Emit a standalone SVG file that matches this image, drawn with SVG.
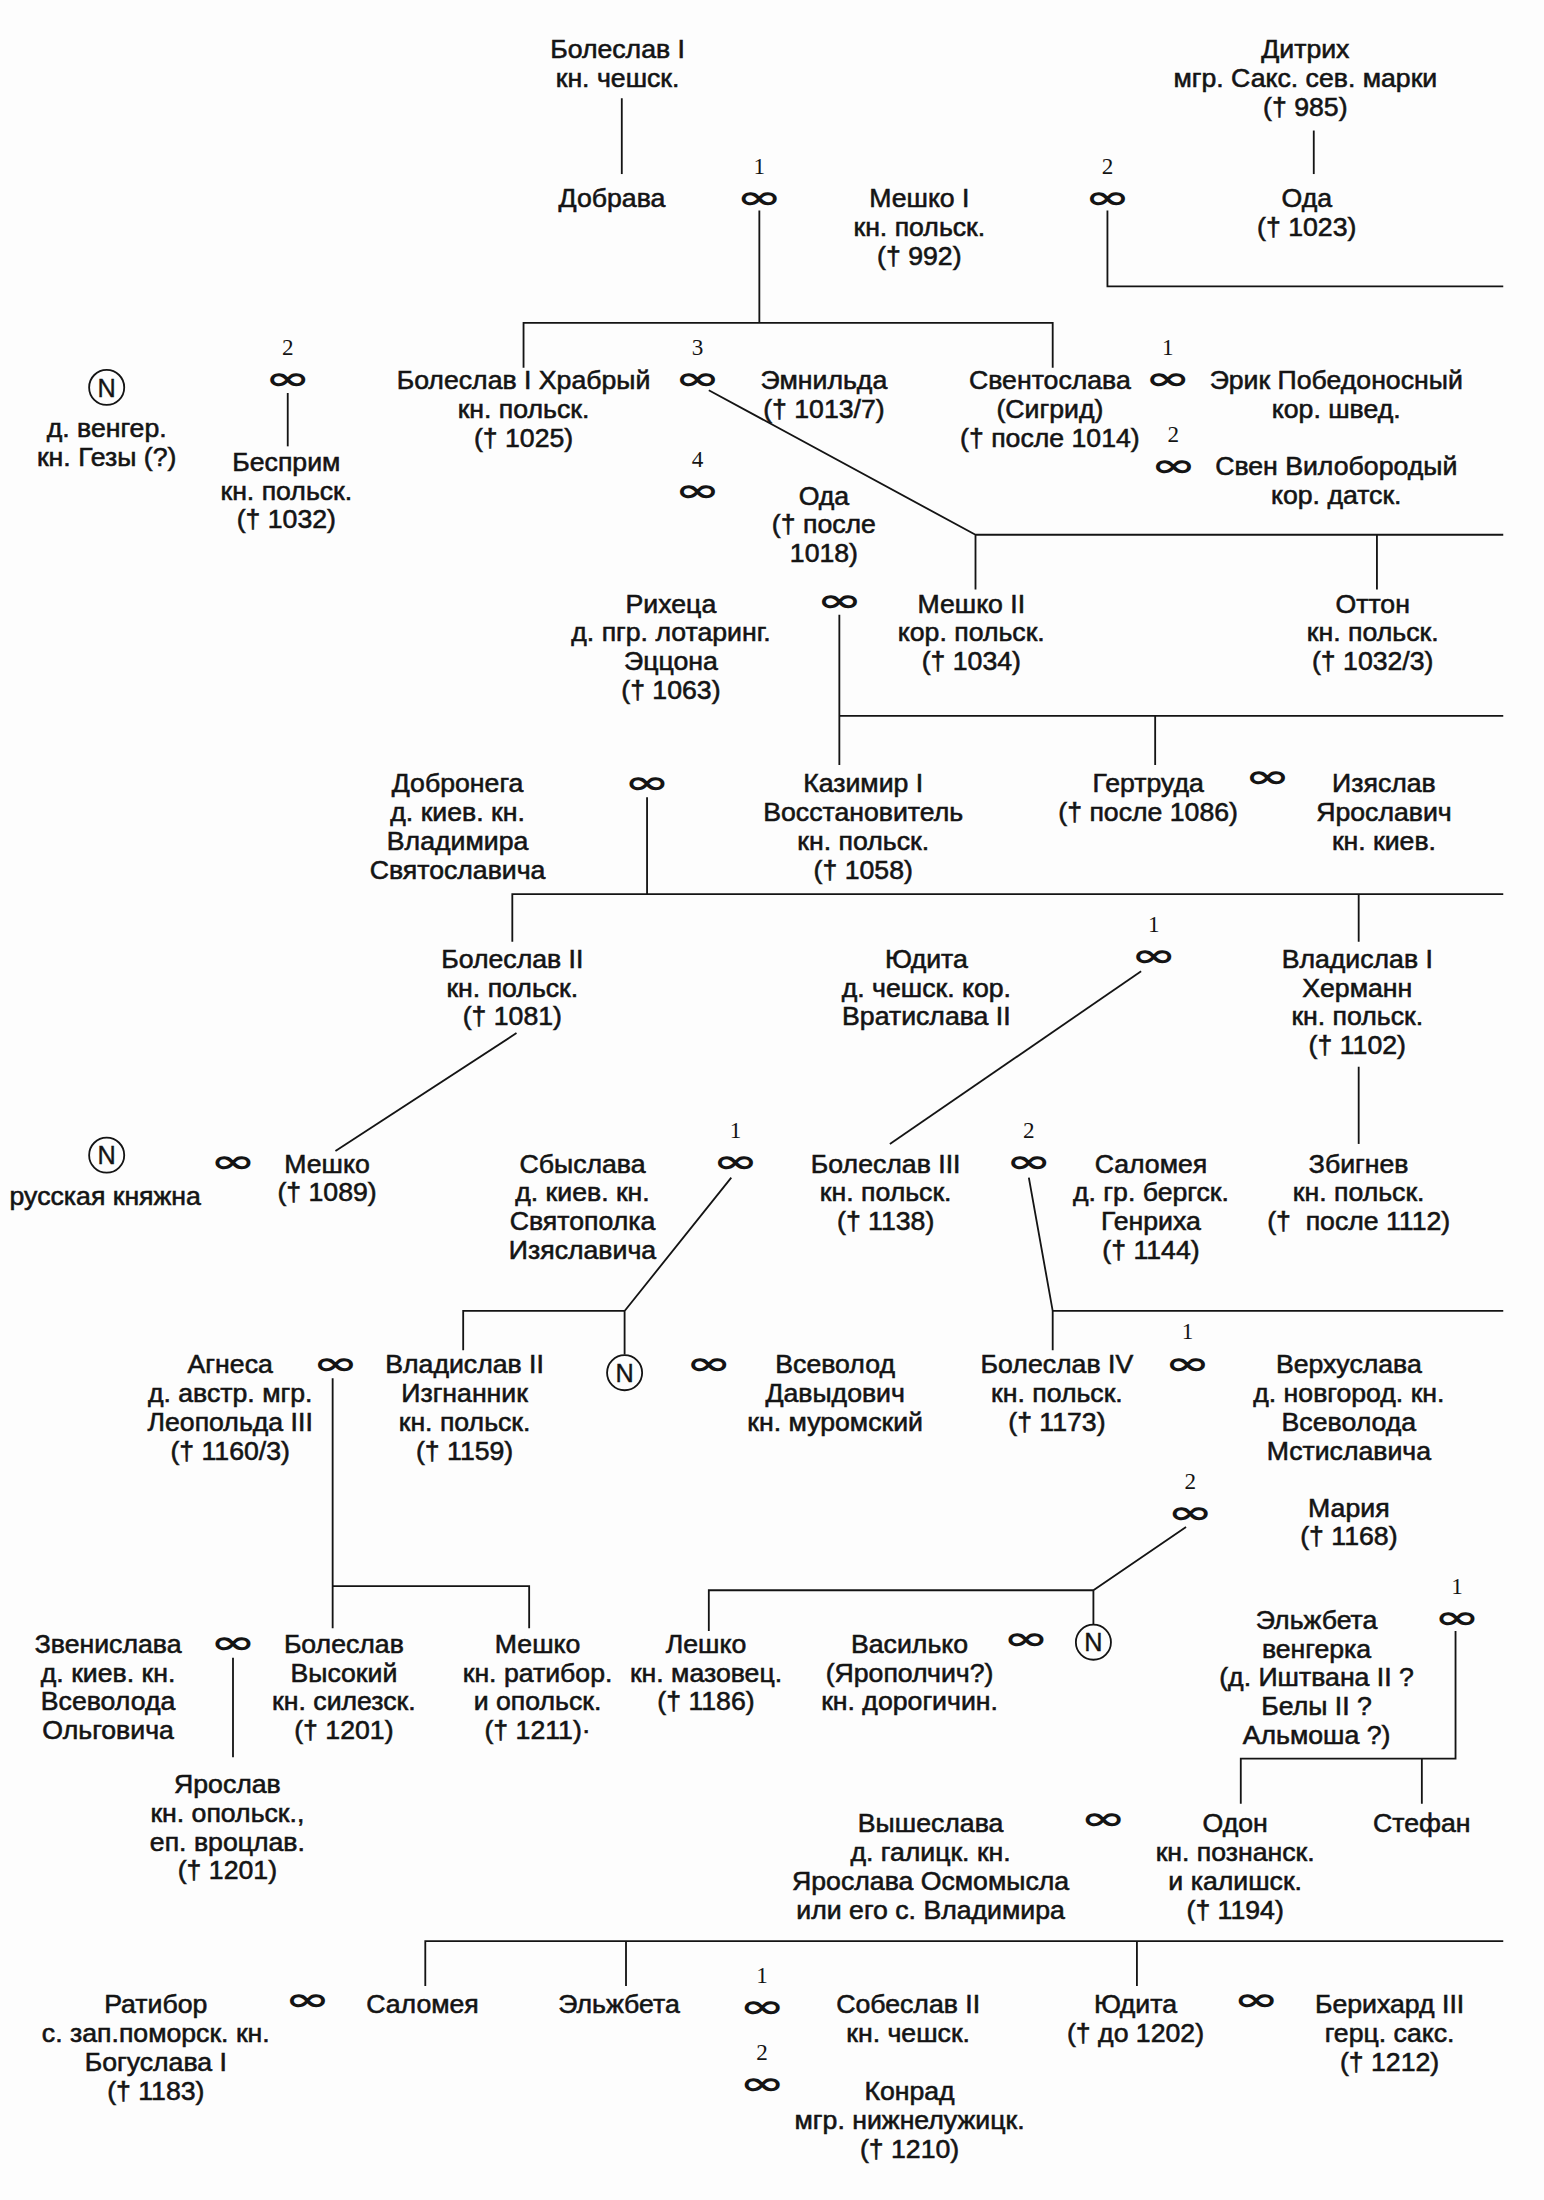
<svg xmlns="http://www.w3.org/2000/svg" width="1544" height="2200" viewBox="0 0 1544 2200">
<style>
.t{font-family:"Liberation Sans",Arial,sans-serif;font-size:19px;text-anchor:middle;fill:#141414;stroke:#141414;stroke-width:0.42;white-space:pre}
.m{font-family:"DejaVu Sans",sans-serif;font-weight:bold;font-size:22px;text-anchor:middle;fill:#141414}
.d{font-family:"Liberation Serif","Times New Roman",serif;font-size:16.5px;text-anchor:middle;fill:#141414}
.c{fill:none;stroke:#141414;stroke-width:1.3}
.cn{font-family:"Liberation Sans",Arial,sans-serif;font-size:18px;text-anchor:middle;fill:#141414;stroke:#141414;stroke-width:0.3}
#links path{fill:none;stroke:#141414;stroke-width:1.3}
</style>
<rect width="1544" height="2200" fill="#fdfdfd"/>
<g transform="scale(1.4036)">
<g id="links">
<path d="M443,70 V124"/>
<path d="M541,150 V230 M373,262 V230 H750 V262"/>
<path d="M789,150 V204 H1071"/>
<path d="M936,93 V124"/>
<path d="M205,280 V318"/>
<path d="M505,278 L695,381 M695,420 V381 H1071 M981,381 V420"/>
<path d="M598,438 V545 M598,510 H1071 M823,510 V545"/>
<path d="M461,568 V637 M365,671 V637 H1071 M968,637 V671"/>
<path d="M368,736 L239,820"/>
<path d="M813,692 L634,815"/>
<path d="M968,760 V815"/>
<path d="M521,839 L445,934 M330,962 V934 H445 V965"/>
<path d="M733,839 L750,934 V962 M750,934 H1071"/>
<path d="M237,982 V1160 M237,1130 H377 V1160"/>
<path d="M845,1088 L779,1133 M505,1162 V1133 H779 V1157"/>
<path d="M166,1181 V1252"/>
<path d="M1037,1162 V1253 H884 V1285 M1013,1253 V1285"/>
<path d="M303,1415 V1383 H1071 M446,1383 V1415 M810,1383 V1415"/>
</g>
<g id="marriages">
<text class="d" x="541" y="124">1</text><text class="m" x="541" y="148" textLength="32" lengthAdjust="spacingAndGlyphs">∞</text>
<text class="d" x="789" y="124">2</text><text class="m" x="789" y="148" textLength="32" lengthAdjust="spacingAndGlyphs">∞</text>
<text class="d" x="205" y="253">2</text><text class="m" x="205" y="277" textLength="32" lengthAdjust="spacingAndGlyphs">∞</text>
<text class="d" x="497" y="253">3</text><text class="m" x="497" y="277" textLength="32" lengthAdjust="spacingAndGlyphs">∞</text>
<text class="d" x="832" y="253">1</text><text class="m" x="832" y="277" textLength="32" lengthAdjust="spacingAndGlyphs">∞</text>
<text class="d" x="836" y="315">2</text><text class="m" x="836" y="339" textLength="32" lengthAdjust="spacingAndGlyphs">∞</text>
<text class="d" x="497" y="333">4</text><text class="m" x="497" y="357" textLength="32" lengthAdjust="spacingAndGlyphs">∞</text>
<text class="m" x="598" y="435" textLength="32" lengthAdjust="spacingAndGlyphs">∞</text>
<text class="m" x="461" y="565" textLength="32" lengthAdjust="spacingAndGlyphs">∞</text>
<text class="m" x="903" y="561" textLength="32" lengthAdjust="spacingAndGlyphs">∞</text>
<text class="d" x="822" y="664">1</text><text class="m" x="822" y="688" textLength="32" lengthAdjust="spacingAndGlyphs">∞</text>
<text class="m" x="166" y="835" textLength="32" lengthAdjust="spacingAndGlyphs">∞</text>
<text class="d" x="524" y="811">1</text><text class="m" x="524" y="835" textLength="32" lengthAdjust="spacingAndGlyphs">∞</text>
<text class="d" x="733" y="811">2</text><text class="m" x="733" y="835" textLength="32" lengthAdjust="spacingAndGlyphs">∞</text>
<text class="m" x="239" y="979" textLength="32" lengthAdjust="spacingAndGlyphs">∞</text>
<text class="m" x="505" y="979" textLength="32" lengthAdjust="spacingAndGlyphs">∞</text>
<text class="d" x="846" y="954">1</text><text class="m" x="846" y="979" textLength="32" lengthAdjust="spacingAndGlyphs">∞</text>
<text class="d" x="848" y="1061">2</text><text class="m" x="848" y="1085" textLength="32" lengthAdjust="spacingAndGlyphs">∞</text>
<text class="m" x="166" y="1178" textLength="32" lengthAdjust="spacingAndGlyphs">∞</text>
<text class="m" x="731" y="1175" textLength="32" lengthAdjust="spacingAndGlyphs">∞</text>
<text class="d" x="1038" y="1136">1</text><text class="m" x="1038" y="1160" textLength="32" lengthAdjust="spacingAndGlyphs">∞</text>
<text class="m" x="786" y="1303" textLength="32" lengthAdjust="spacingAndGlyphs">∞</text>
<text class="m" x="219" y="1432" textLength="32" lengthAdjust="spacingAndGlyphs">∞</text>
<text class="d" x="543" y="1413">1</text><text class="m" x="543" y="1437" textLength="32" lengthAdjust="spacingAndGlyphs">∞</text>
<text class="d" x="543" y="1468">2</text><text class="m" x="543" y="1492" textLength="32" lengthAdjust="spacingAndGlyphs">∞</text>
<text class="m" x="895" y="1432" textLength="32" lengthAdjust="spacingAndGlyphs">∞</text>
</g>
<g id="n1"><text class="t" x="440" y="41.5">Болеслав I<tspan x="440" dy="20.5">кн. чешск.</tspan></text></g>
<g id="n2"><text class="t" x="436" y="147.5">Добрава</text></g>
<g id="n3"><text class="t" x="655" y="147.5">Мешко I<tspan x="655" dy="20.5">кн. польск.</tspan><tspan x="655" dy="20.5">(† 992)</tspan></text></g>
<g id="n4"><text class="t" x="930" y="41.5">Дитрих<tspan x="930" dy="20.5">мгр. Сакс. сев. марки</tspan><tspan x="930" dy="20.5">(† 985)</tspan></text></g>
<g id="n5"><text class="t" x="931" y="147.5">Ода<tspan x="931" dy="20.5">(† 1023)</tspan></text></g>
<g id="n6"><circle class="c" cx="76" cy="276" r="12.5"/><text class="cn" x="76" y="282.5">N</text><text class="t" x="76" y="311.5">д. венгер.<tspan x="76" dy="20.5">кн. Гезы (?)</tspan></text></g>
<g id="n7"><text class="t" x="204" y="335.5">Бесприм<tspan x="204" dy="20.5">кн. польск.</tspan><tspan x="204" dy="20.5">(† 1032)</tspan></text></g>
<g id="n8"><text class="t" x="373" y="277.5">Болеслав I Храбрый<tspan x="373" dy="20.5">кн. польск.</tspan><tspan x="373" dy="20.5">(† 1025)</tspan></text></g>
<g id="n9"><text class="t" x="587" y="277.5">Эмнильда<tspan x="587" dy="20.5">(† 1013/7)</tspan></text></g>
<g id="n10"><text class="t" x="748" y="277.5">Свентослава<tspan x="748" dy="20.5">(Сигрид)</tspan><tspan x="748" dy="20.5">(† после 1014)</tspan></text></g>
<g id="n11"><text class="t" x="952" y="277.5">Эрик Победоносный<tspan x="952" dy="20.5">кор. швед.</tspan></text></g>
<g id="n12"><text class="t" x="952" y="338.5">Свен Вилобородый<tspan x="952" dy="20.5">кор. датск.</tspan></text></g>
<g id="n13"><text class="t" x="587" y="359.5">Ода<tspan x="587" dy="20.5">(† после</tspan><tspan x="587" dy="20.5">1018)</tspan></text></g>
<g id="n14"><text class="t" x="478" y="436.5">Рихеца<tspan x="478" dy="20.5">д. пгр. лотаринг.</tspan><tspan x="478" dy="20.5">Эццона</tspan><tspan x="478" dy="20.5">(† 1063)</tspan></text></g>
<g id="n15"><text class="t" x="692" y="436.5">Мешко II<tspan x="692" dy="20.5">кор. польск.</tspan><tspan x="692" dy="20.5">(† 1034)</tspan></text></g>
<g id="n16"><text class="t" x="978" y="436.5">Оттон<tspan x="978" dy="20.5">кн. польск.</tspan><tspan x="978" dy="20.5">(† 1032/3)</tspan></text></g>
<g id="n17"><text class="t" x="326" y="564.5">Добронега<tspan x="326" dy="20.5">д. киев. кн.</tspan><tspan x="326" dy="20.5">Владимира</tspan><tspan x="326" dy="20.5">Святославича</tspan></text></g>
<g id="n18"><text class="t" x="615" y="564.5">Казимир I<tspan x="615" dy="20.5">Восстановитель</tspan><tspan x="615" dy="20.5">кн. польск.</tspan><tspan x="615" dy="20.5">(† 1058)</tspan></text></g>
<g id="n19"><text class="t" x="818" y="564.5">Гертруда<tspan x="818" dy="20.5">(† после 1086)</tspan></text></g>
<g id="n20"><text class="t" x="986" y="564.5">Изяслав<tspan x="986" dy="20.5">Ярославич</tspan><tspan x="986" dy="20.5">кн. киев.</tspan></text></g>
<g id="n21"><text class="t" x="365" y="689.5">Болеслав II<tspan x="365" dy="20.5">кн. польск.</tspan><tspan x="365" dy="20.5">(† 1081)</tspan></text></g>
<g id="n22"><text class="t" x="660" y="689.5">Юдита<tspan x="660" dy="20.5">д. чешск. кор.</tspan><tspan x="660" dy="20.5">Вратислава II</tspan></text></g>
<g id="n23"><text class="t" x="967" y="689.5">Владислав I<tspan x="967" dy="20.5">Херманн</tspan><tspan x="967" dy="20.5">кн. польск.</tspan><tspan x="967" dy="20.5">(† 1102)</tspan></text></g>
<g id="n24"><circle class="c" cx="76" cy="823" r="12.5"/><text class="cn" x="76" y="829.5">N</text><text class="t" x="75" y="858.5">русская княжна</text></g>
<g id="n25"><text class="t" x="233" y="835.5">Мешко<tspan x="233" dy="20.5">(† 1089)</tspan></text></g>
<g id="n26"><text class="t" x="415" y="835.5">Сбыслава<tspan x="415" dy="20.5">д. киев. кн.</tspan><tspan x="415" dy="20.5">Святополка</tspan><tspan x="415" dy="20.5">Изяславича</tspan></text></g>
<g id="n27"><text class="t" x="631" y="835.5">Болеслав III<tspan x="631" dy="20.5">кн. польск.</tspan><tspan x="631" dy="20.5">(† 1138)</tspan></text></g>
<g id="n28"><text class="t" x="820" y="835.5">Саломея<tspan x="820" dy="20.5">д. гр. бергск.</tspan><tspan x="820" dy="20.5">Генриха</tspan><tspan x="820" dy="20.5">(† 1144)</tspan></text></g>
<g id="n29"><text class="t" x="968" y="835.5">Збигнев<tspan x="968" dy="20.5">кн. польск.</tspan><tspan x="968" dy="20.5">(†  после 1112)</tspan></text></g>
<g id="n30"><text class="t" x="164" y="978.5">Агнеса<tspan x="164" dy="20.5">д. австр. мгр.</tspan><tspan x="164" dy="20.5">Леопольда III</tspan><tspan x="164" dy="20.5">(† 1160/3)</tspan></text></g>
<g id="n31"><text class="t" x="331" y="978.5">Владислав II<tspan x="331" dy="20.5">Изгнанник</tspan><tspan x="331" dy="20.5">кн. польск.</tspan><tspan x="331" dy="20.5">(† 1159)</tspan></text></g>
<g id="n32"><circle class="c" cx="445" cy="978" r="12.5"/><text class="cn" x="445" y="984.5">N</text></g>
<g id="n33"><text class="t" x="595" y="978.5">Всеволод<tspan x="595" dy="20.5">Давыдович</tspan><tspan x="595" dy="20.5">кн. муромский</tspan></text></g>
<g id="n34"><text class="t" x="753" y="978.5">Болеслав IV<tspan x="753" dy="20.5">кн. польск.</tspan><tspan x="753" dy="20.5">(† 1173)</tspan></text></g>
<g id="n35"><text class="t" x="961" y="978.5">Верхуслава<tspan x="961" dy="20.5">д. новгород. кн.</tspan><tspan x="961" dy="20.5">Всеволода</tspan><tspan x="961" dy="20.5">Мстиславича</tspan></text></g>
<g id="n36"><text class="t" x="961" y="1080.5">Мария<tspan x="961" dy="20.5">(† 1168)</tspan></text></g>
<g id="n37"><text class="t" x="77" y="1177.5">Звенислава<tspan x="77" dy="20.5">д. киев. кн.</tspan><tspan x="77" dy="20.5">Всеволода</tspan><tspan x="77" dy="20.5">Ольговича</tspan></text></g>
<g id="n38"><text class="t" x="245" y="1177.5">Болеслав<tspan x="245" dy="20.5">Высокий</tspan><tspan x="245" dy="20.5">кн. силезск.</tspan><tspan x="245" dy="20.5">(† 1201)</tspan></text></g>
<g id="n39"><text class="t" x="383" y="1177.5">Мешко<tspan x="383" dy="20.5">кн. ратибор.</tspan><tspan x="383" dy="20.5">и опольск.</tspan><tspan x="383" dy="20.5">(† 1211)·</tspan></text></g>
<g id="n40"><text class="t" x="503" y="1177.5">Лешко<tspan x="503" dy="20.5">кн. мазовец.</tspan><tspan x="503" dy="20.5">(† 1186)</tspan></text></g>
<g id="n41"><text class="t" x="648" y="1177.5">Василько<tspan x="648" dy="20.5">(Ярополчич?)</tspan><tspan x="648" dy="20.5">кн. дорогичин.</tspan></text></g>
<g id="n42"><circle class="c" cx="779" cy="1170" r="12.5"/><text class="cn" x="779" y="1176.5">N</text></g>
<g id="n43"><text class="t" x="938" y="1160.5">Эльжбета<tspan x="938" dy="20.5">венгерка</tspan><tspan x="938" dy="20.5">(д. Иштвана II ?</tspan><tspan x="938" dy="20.5">Белы II ?</tspan><tspan x="938" dy="20.5">Альмоша ?)</tspan></text></g>
<g id="n44"><text class="t" x="162" y="1277.5">Ярослав<tspan x="162" dy="20.5">кн. опольск.,</tspan><tspan x="162" dy="20.5">еп. вроцлав.</tspan><tspan x="162" dy="20.5">(† 1201)</tspan></text></g>
<g id="n45"><text class="t" x="663" y="1305.5">Вышеслава<tspan x="663" dy="20.5">д. галицк. кн.</tspan><tspan x="663" dy="20.5">Ярослава Осмомысла</tspan><tspan x="663" dy="20.5">или его с. Владимира</tspan></text></g>
<g id="n46"><text class="t" x="880" y="1305.5">Одон<tspan x="880" dy="20.5">кн. познанск.</tspan><tspan x="880" dy="20.5">и калишск.</tspan><tspan x="880" dy="20.5">(† 1194)</tspan></text></g>
<g id="n47"><text class="t" x="1013" y="1305.5">Стефан</text></g>
<g id="n48"><text class="t" x="111" y="1434.5">Ратибор<tspan x="111" dy="20.5">с. зап.поморск. кн.</tspan><tspan x="111" dy="20.5">Богуслава I</tspan><tspan x="111" dy="20.5">(† 1183)</tspan></text></g>
<g id="n49"><text class="t" x="301" y="1434.5">Саломея</text></g>
<g id="n50"><text class="t" x="441" y="1434.5">Эльжбета</text></g>
<g id="n51"><text class="t" x="647" y="1434.5">Собеслав II<tspan x="647" dy="20.5">кн. чешск.</tspan></text></g>
<g id="n52"><text class="t" x="648" y="1496.5">Конрад<tspan x="648" dy="20.5">мгр. нижнелужицк.</tspan><tspan x="648" dy="20.5">(† 1210)</tspan></text></g>
<g id="n53"><text class="t" x="809" y="1434.5">Юдита<tspan x="809" dy="20.5">(† до 1202)</tspan></text></g>
<g id="n54"><text class="t" x="990" y="1434.5">Берихард III<tspan x="990" dy="20.5">герц. сакс.</tspan><tspan x="990" dy="20.5">(† 1212)</tspan></text></g>
</g>
</svg>
